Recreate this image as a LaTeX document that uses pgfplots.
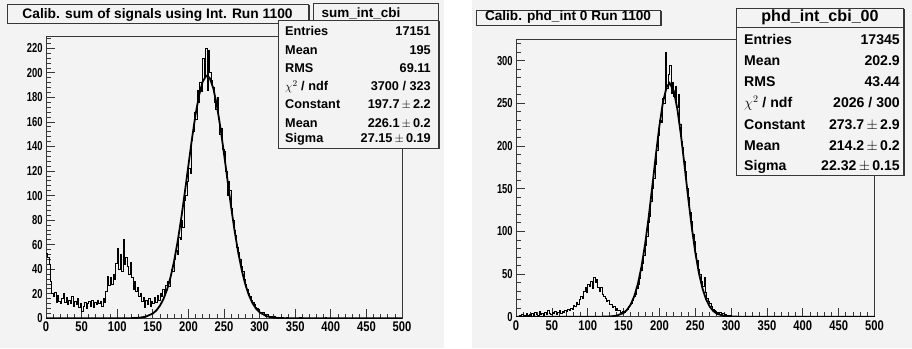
\documentclass[border=0pt]{standalone}
\usepackage{pgfplots}
\usepackage{pgfplotstable}
\pgfplotsset{compat=1.18}
\usepackage{fontspec}
\setmainfont{Liberation Sans}

\definecolor{padbg}{RGB}{243,243,243}
\definecolor{framec}{RGB}{55,55,55}
\newcommand\fs[1]{\fontsize{#1}{#1}\selectfont\bfseries}

% sum of signals, bins of width 2 (left edge, counts)
\pgfplotstableread[row sep=\\]{
x y\\
0 53\\ 2 50\\ 4 44\\ 6 30\\ 8 20\\ 10 18\\ 12 21\\ 14 13\\ 16 19\\ 18 14\\
20 12\\ 22 16\\ 24 20\\ 26 13\\ 28 17\\ 30 11\\ 32 15\\ 34 12\\ 36 18\\ 38 10\\
40 14\\ 42 11\\ 44 16\\ 46 9\\ 48 12\\ 50 6\\ 52 10\\ 54 13\\ 56 8\\ 58 12\\
60 14\\ 62 10\\ 64 15\\ 66 9\\ 68 13\\ 70 11\\ 72 15\\ 74 12\\ 76 14\\ 78 10\\
80 16\\ 82 13\\ 84 22\\ 86 34\\ 88 27\\ 90 33\\ 92 28\\ 94 36\\ 96 32\\ 98 45\\
100 57\\ 102 40\\ 104 52\\ 106 38\\ 108 64\\ 110 44\\ 112 50\\ 114 42\\ 116 36\\ 118 46\\
120 33\\ 122 24\\ 124 30\\ 126 22\\ 128 25\\ 130 18\\ 132 20\\ 134 14\\ 136 17\\ 138 9\\
140 15\\ 142 11\\ 144 16\\ 146 10\\ 148 14\\ 150 12\\ 152 17\\ 154 13\\ 156 19\\ 158 15\\
160 20\\ 162 18\\ 164 24\\ 166 20\\ 168 27\\ 170 30\\ 172 26\\ 174 35\\ 176 40\\ 178 38\\
180 48\\ 182 55\\ 184 52\\ 186 66\\ 188 64\\ 190 80\\ 192 74\\ 194 96\\ 196 100\\ 198 112\\
200 122\\ 202 118\\ 204 145\\ 206 152\\ 208 168\\ 210 162\\ 212 186\\ 214 176\\ 216 192\\ 218 185\\
220 212\\ 222 196\\ 224 220\\ 226 186\\ 228 218\\ 230 200\\ 232 194\\ 234 188\\ 236 176\\ 238 170\\
240 180\\ 242 162\\ 244 150\\ 246 155\\ 248 138\\ 250 136\\ 252 120\\ 254 100\\ 256 112\\ 258 104\\
260 90\\ 262 80\\ 264 72\\ 266 68\\ 268 58\\ 270 54\\ 272 48\\ 274 42\\ 276 38\\ 278 32\\
280 28\\ 282 24\\ 284 20\\ 286 18\\ 288 15\\ 290 13\\ 292 11\\ 294 9\\ 296 8\\ 298 7\\
300 5\\ 302 4\\ 304 5\\ 306 3\\ 308 2\\ 310 3\\ 312 2\\ 314 1\\ 316 2\\ 318 1\\
320 2\\ 322 1\\ 324 1\\ 326 0\\ 328 1\\ 330 0\\ 332 1\\ 334 0\\ 338 1\\ 340 0\\
356 1\\ 358 0\\ 392 1\\ 394 0\\ 500 0\\
}\histsum

% phd_int 0, bins of width 2 (left edge, counts)
\pgfplotstableread[row sep=\\]{
x y\\
0 1\\ 2 0\\ 4 2\\ 6 1\\ 8 3\\ 10 1\\ 12 2\\ 14 4\\ 16 2\\ 18 3\\
20 1\\ 22 4\\ 24 2\\ 26 5\\ 28 3\\ 30 2\\ 32 6\\ 34 3\\ 36 4\\ 38 2\\
40 5\\ 42 3\\ 44 7\\ 46 4\\ 48 3\\ 50 5\\ 52 4\\ 54 6\\ 56 3\\ 58 5\\
60 7\\ 62 4\\ 64 6\\ 66 5\\ 68 8\\ 70 6\\ 72 9\\ 74 7\\ 76 10\\ 78 9\\
80 13\\ 82 12\\ 84 17\\ 86 15\\ 88 20\\ 90 24\\ 92 22\\ 94 30\\ 96 34\\ 98 28\\
100 38\\ 102 36\\ 104 42\\ 106 33\\ 108 46\\ 110 40\\ 112 44\\ 114 35\\ 116 30\\ 118 34\\
120 26\\ 122 24\\ 124 21\\ 126 18\\ 128 19\\ 130 14\\ 132 15\\ 134 11\\ 136 12\\ 138 8\\
140 10\\ 142 7\\ 144 8\\ 146 5\\ 148 6\\ 150 5\\ 152 8\\ 154 9\\ 156 12\\ 158 13\\
160 16\\ 162 19\\ 164 24\\ 166 26\\ 168 33\\ 170 38\\ 172 45\\ 174 54\\ 176 62\\ 178 72\\
180 84\\ 182 94\\ 184 110\\ 186 118\\ 188 135\\ 190 150\\ 192 162\\ 194 178\\ 196 195\\ 198 212\\
200 230\\ 202 228\\ 204 256\\ 206 250\\ 208 310\\ 210 268\\ 212 284\\ 214 295\\ 216 262\\ 218 275\\
220 258\\ 222 270\\ 224 245\\ 226 260\\ 228 225\\ 230 205\\ 232 198\\ 234 182\\ 236 170\\ 238 150\\
240 140\\ 242 122\\ 244 112\\ 246 96\\ 248 88\\ 250 74\\ 252 66\\ 254 56\\ 256 50\\ 258 42\\
260 36\\ 262 46\\ 264 28\\ 266 22\\ 268 18\\ 270 16\\ 272 12\\ 274 9\\ 276 8\\ 278 6\\
280 5\\ 282 4\\ 284 5\\ 286 3\\ 288 4\\ 290 2\\ 292 3\\ 294 2\\ 296 1\\ 298 2\\
300 1\\ 302 1\\ 304 0\\ 306 1\\ 308 0\\ 340 1\\ 342 0\\ 418 1\\ 420 0\\ 500 0\\
}\histphd

\pgfplotsset{rootaxis/.style={
  scale only axis, anchor=south west,
  xmin=0, xmax=500, ymin=0,
  axis line style={framec, line width=0.7pt},
  tick align=inside, tick pos=left,
  major tick length=9pt, minor tick length=4.5pt,
  tick style={framec, line width=0.7pt},
  xtick={0,50,...,500}, minor xtick={0,10,...,500},
  /pgf/number format/assume math mode=true,
  x tick label style={font=\fs{14}, xscale=0.8, anchor=north, inner sep=0pt, yshift=-3.5pt},
  y tick label style={font=\fs{13}, xscale=0.72, anchor=east, inner sep=0pt, xshift=-4.5pt},
  axis background/.style={fill=padbg},
}}

% ROOT-like pave with drop shadow
\newcommand\pave[4]{%
  \fill[framec] (#1+1.5,#2-1.5) rectangle (#3+1.5,#4-1.5);
  \filldraw[fill=padbg, draw=framec, line width=0.7pt] (#1,#2) rectangle (#3,#4);}

\begin{document}
\begin{tikzpicture}[x=1pt,y=1pt]
\path[use as bounding box] (0,0) rectangle (912,348);
\fill[padbg] (0,0) rectangle (444,348);
\fill[padbg] (472,0) rectangle (912,348);

% ---- left: sum_int_cbi ----
\begin{axis}[rootaxis, at={(46pt,29.7pt)}, width=356pt, height=282.3pt,
  ymax=230, ytick={0,20,...,220}, minor ytick={0,4,...,228}]
\addplot[const plot, black, line width=0.65pt] table[x=x, y=y] {\histsum};
\addplot[black, line width=1.8pt] coordinates {
(0,0) (100,0) (110,0.02) (120,0.10) (130,0.38) (140,1.29) (150,3.89) (155,6.41)
(160,10.21) (165,15.72) (170,23.37) (175,33.63) (180,46.77) (185,62.87) (190,81.67)
(195,102.6) (200,124.5) (205,146.2) (210,165.8) (215,181.8) (220,192.8) (225,197.5)
(226.1,197.7) (230,195.7) (235,187.4) (240,173.4) (245,155.2) (250,134.2) (255,112.2)
(260,90.67) (265,70.83) (270,53.50) (275,39.05) (280,27.56) (285,18.79) (290,12.39)
(295,7.90) (300,4.87) (310,1.67) (320,0.50) (330,0.13) (340,0.03) (500,0)};
\end{axis}

\pave{7}{344}{308}{325}
\node[anchor=base, font=\fs{13.8}] at (157.5,329) {Calib. sum of signals using Int. Run 1100};

\pave{278}{328}{438}{200}
\filldraw[fill=padbg, draw=framec, line width=0.7pt] (313,345) rectangle (438,328);
\node[anchor=base west, font=\fs{13.5}] at (318,330.5) {sum\_int\_cbi};
\begin{scope}[every node/.style={font=\fs{12.7}, inner sep=0pt}]
\node[anchor=base west] at (285,312) {Entries};   \node[anchor=base east] at (431,312) {17151};
\node[anchor=base west] at (285,293.7) {Mean};    \node[anchor=base east] at (431,293.7) {195};
\node[anchor=base west] at (285,275.3) {RMS};     \node[anchor=base east] at (431,275.3) {69.11};
\node[anchor=base west] at (285,257.5) {\(\chi^2\) / ndf}; \node[anchor=base east] at (431,257.5) {3700 / 323};
\node[anchor=base west] at (285,239) {Constant};  \node[anchor=base east] at (431,239) {197.7\,\(\pm\)\,2.2};
\node[anchor=base west] at (285,220.7) {Mean};    \node[anchor=base east] at (431,220.7) {226.1\,\(\pm\)\,0.2};
\node[anchor=base west] at (285,205) {Sigma};     \node[anchor=base east] at (431,205) {27.15\,\(\pm\)\,0.19};
\end{scope}

% ---- right: phd_int_cbi_00 ----
\begin{axis}[rootaxis, at={(516pt,31.3pt)}, width=358.5pt, height=277.4pt,
  ymax=325, ytick={0,50,...,300}, minor ytick={0,10,...,320}]
\addplot[const plot, black, line width=0.65pt] table[x=x, y=y] {\histphd};
\addplot[black, line width=1.8pt] coordinates {
(0,0) (110,0) (120,0.04) (130,0.22) (140,1.09) (150,4.37) (155,8.13) (160,14.36)
(165,24.12) (170,38.53) (175,58.55) (180,84.63) (185,116.3) (190,152.1) (195,189.0)
(200,223.6) (205,251.4) (210,268.9) (214.2,273.7) (220,264.6) (225,243.5) (230,213.1)
(235,177.3) (240,140.3) (245,105.6) (250,75.62) (255,51.49) (260,33.34) (265,20.53)
(270,12.03) (275,6.70) (280,3.55) (290,0.86) (300,0.17) (310,0.03) (500,0)};
\end{axis}

\pave{476}{338}{660}{323}
\node[anchor=base, font=\fs{13.6}] at (568,327.3) {Calib. phd\_int 0 Run 1100};

\pave{736}{340}{903}{173}
\draw[framec, line width=0.7pt] (736,321) -- (903,321);
\node[anchor=base, font=\fs{16.1}] at (820,326) {phd\_int\_cbi\_00};
\begin{scope}[every node/.style={font=\fs{14.1}, inner sep=0pt}]
\node[anchor=base west] at (744,303) {Entries};   \node[anchor=base east] at (900,303) {17345};
\node[anchor=base west] at (744,282) {Mean};      \node[anchor=base east] at (900,282) {202.9};
\node[anchor=base west] at (744,261.3) {RMS};     \node[anchor=base east] at (900,261.3) {43.44};
\node[anchor=base west] at (744,240) {\(\chi^2\) / ndf}; \node[anchor=base east] at (900,240) {2026 / 300};
\node[anchor=base west] at (744,218.7) {Constant}; \node[anchor=base east] at (900,218.7) {273.7\,\(\pm\)\,2.9};
\node[anchor=base west] at (744,197.5) {Mean};    \node[anchor=base east] at (900,197.5) {214.2\,\(\pm\)\,0.2};
\node[anchor=base west] at (744,177.3) {Sigma};   \node[anchor=base east] at (900,177.3) {22.32\,\(\pm\)\,0.15};
\end{scope}
\end{tikzpicture}
\end{document}
